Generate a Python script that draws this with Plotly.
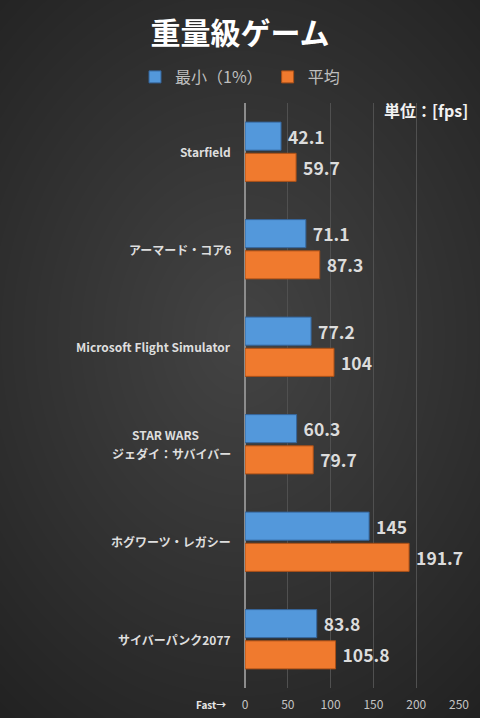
import plotly.graph_objects as go

games = [
    'Starfield',
    'アーマード・コア6',
    'Microsoft Flight Simulator',
    'STAR WARS<br>ジェダイ：サバイバー',
    'ホグワーツ・レガシー',
    'サイバーパンク2077',
]
min_fps = [42.1, 71.1, 77.2, 60.3, 145, 83.8]
avg_fps = [59.7, 87.3, 104, 79.7, 191.7, 105.8]
series_names = ['最小（1%）', '平均']
x_ticks = [0, 50, 100, 150, 200, 250]

W, H = 480, 718
L, R, T, B = 245, 21, 103, 30
FONT = 'Noto Sans CJK JP'

fig = go.Figure()
fig.add_trace(go.Bar(
    y=games, x=min_fps, orientation='h', name=series_names[0],
    marker=dict(color='#5398db', line=dict(color='#35659a', width=1)),
    text=[f' {v}' for v in min_fps], textposition='outside',
    textfont=dict(size=17.5, color='#dcdcdc', family=FONT, weight='bold'),
    cliponaxis=False,
))
fig.add_trace(go.Bar(
    y=games, x=avg_fps, orientation='h', name=series_names[1],
    marker=dict(color='#f07a2e', line=dict(color='#a94f17', width=1)),
    text=[f' {v}' for v in avg_fps], textposition='outside',
    textfont=dict(size=17.5, color='#dcdcdc', family=FONT, weight='bold'),
    cliponaxis=False,
))

# category labels; multi-line names get one centred annotation per line
for g in games:
    lines = g.split('<br>')
    n = len(lines)
    for i, line in enumerate(lines):
        fig.add_annotation(x=0, xref='paper', y=g, yref='y', text=line, showarrow=False,
                           xanchor='right', xshift=-12 - (32 if (n > 1 and i == 0) else 0),
                           yshift=(n - 1) * 9.5 - i * 19,
                           font=dict(size=12, color='#dedede', family=FONT, weight='bold'))

fig.add_annotation(x=0, xref='paper', y=0, yref='paper', text='Fast→', showarrow=False,
                   xanchor='right', yanchor='top', xshift=-17, yshift=-7,
                   font=dict(size=10, color='#e8e8e8', family=FONT, weight='bold'))
fig.add_annotation(x=1, xref='paper', y=1, yref='paper', text='単位：[fps]', showarrow=False,
                   xanchor='right', yanchor='middle', xshift=11, yshift=-7,
                   font=dict(size=16, color='#f2f2f2', family=FONT, weight='bold'))

# radial lightening of the background (brighter in the middle)
pw = W - L - R
ph = H - T - B
steps = 40
for i in range(steps):
    s = 1 - i / steps
    cx, cy = W / 2, H * 0.47
    rx, ry = W * 0.95 * s, H * 0.8 * s
    fig.add_shape(type='circle', layer='below', line_width=0,
                  fillcolor='#ffffff', opacity=0.009,
                  xref='paper', yref='paper',
                  x0=(cx - rx - L) / pw, x1=(cx + rx - L) / pw,
                  y0=(H - B - (cy + ry)) / ph, y1=(H - B - (cy - ry)) / ph)

fig.update_layout(
    width=W, height=H,
    margin=dict(l=L, r=R, t=T, b=B),
    paper_bgcolor='#1b1b1b', plot_bgcolor='rgba(0,0,0,0)',
    barmode='group', bargap=0.36, bargroupgap=0.1,
    title=dict(text='重量級ゲーム', x=0.5, xref='container', xanchor='center',
               y=1 - 33 / H, yanchor='middle',
               font=dict(size=30, color='#ffffff', family=FONT, weight='bold')),
    legend=dict(orientation='h', x=0.5, xref='container', xanchor='center',
                y=1 - 77 / H, yref='container', yanchor='middle',
                font=dict(size=16, color='#bfbfbf', family=FONT),
                bgcolor='rgba(0,0,0,0)', itemwidth=30, traceorder='normal'),
    showlegend=True,
    font=dict(family=FONT),
)
fig.update_xaxes(range=[0, 250], tickvals=x_ticks, showgrid=True, gridcolor='#505050',
                 gridwidth=1, zeroline=True, zerolinecolor='#8c8c8c', zerolinewidth=2,
                 tickfont=dict(size=12, color='#c4c4c4', family=FONT), ticks='',
                 ticklabelstandoff=8, automargin=False, fixedrange=True)
fig.update_yaxes(autorange='reversed', showticklabels=False, showgrid=False, ticks='',
                 automargin=False, fixedrange=True)

fig.write_html('out.html', config={'displayModeBar': False},
               post_script="document.body.style.margin='0';")
